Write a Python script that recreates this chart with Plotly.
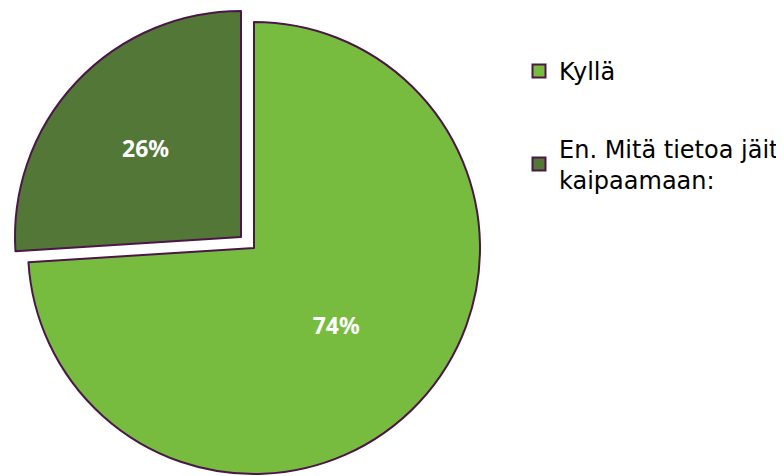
import plotly.graph_objects as go

labels = ["Kyllä", "En. Mitä tietoa jäit<br>kaipaamaan:"]
values = [74, 26]
colors = ["#77BC3F", "#537737"]
line_color = "#4A1747"
clear = "rgba(0,0,0,0)"

W, H = 784, 476
label_font = dict(size=23, family="Noto Sans", weight="bold", color="white")
pct = "%{percent:.0%}"

fig = go.Figure()

# main (unpulled) slice
fig.add_trace(go.Pie(
    labels=labels, values=values, sort=False, direction="clockwise", rotation=0,
    marker=dict(colors=[colors[0], clear], line=dict(color=[line_color, clear], width=2)),
    texttemplate=[pct, " "], textposition="inside",
    insidetextorientation="horizontal",
    insidetextfont=label_font,
    domain=dict(x=[20/W, 472/W], y=[1-466/H, 1-14/H]),
    showlegend=False, hoverinfo="label+percent",
))
# exploded slice
fig.add_trace(go.Pie(
    labels=labels, values=values, sort=False, direction="clockwise", rotation=0,
    marker=dict(colors=[clear, colors[1]], line=dict(color=[clear, line_color], width=2)),
    texttemplate=[" ", pct], textposition="inside",
    insidetextorientation="horizontal",
    insidetextfont=label_font,
    domain=dict(x=[7/W, 459/W], y=[1-455/H, 1-3/H]),
    showlegend=False, hoverinfo="label+percent",
))

# legend entries
for i, (lab, col) in enumerate(zip(labels, colors)):
    fig.add_trace(go.Scatter(
        x=[None], y=[None], mode="markers", name=lab, legendgroup=f"g{i}",
        marker=dict(symbol="square", size=13, color=col, line=dict(color=line_color, width=2)),
    ))

fig.update_layout(
    width=W, height=H, margin=dict(l=0, r=0, t=0, b=0),
    paper_bgcolor="white", plot_bgcolor="white",
    xaxis=dict(visible=False), yaxis=dict(visible=False),
    legend=dict(x=511/W, y=1-41/H, xanchor="left", yanchor="top",
                font=dict(family="DejaVu Sans", size=24, color="black"),
                tracegroupgap=43, itemwidth=30, bgcolor="rgba(0,0,0,0)"),
)

fig.write_html("out.html")
